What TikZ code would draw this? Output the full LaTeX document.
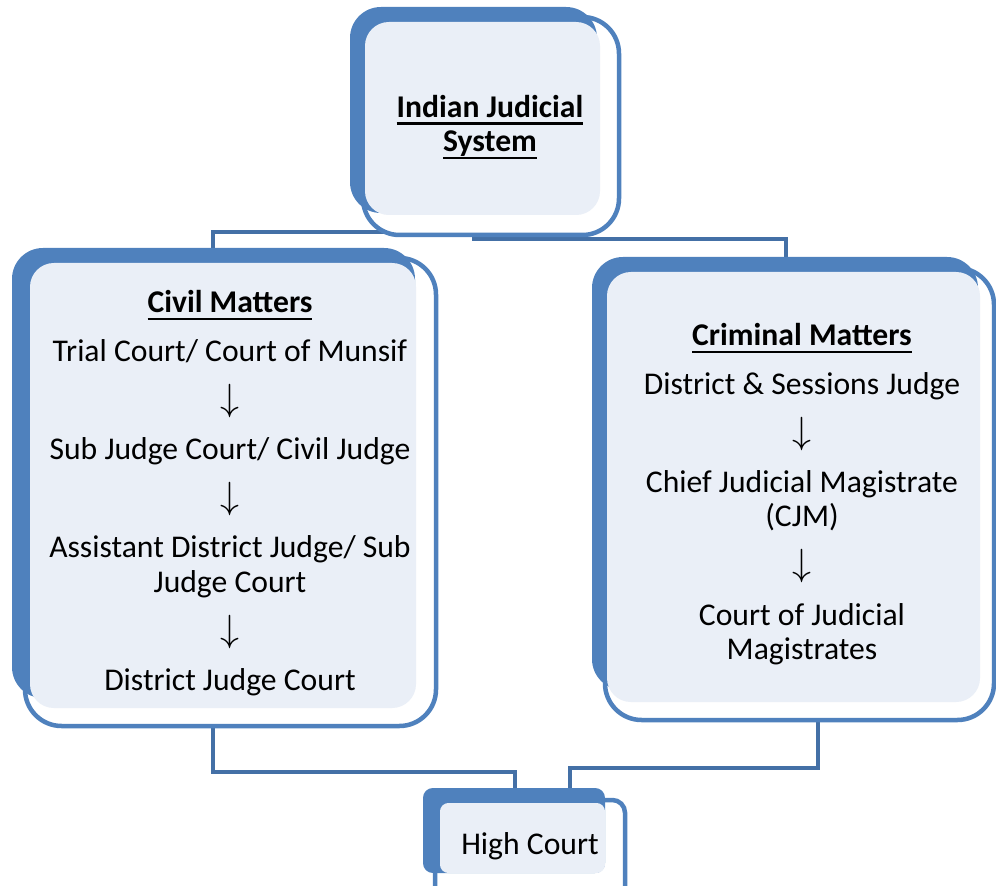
\documentclass[tikz,border=0pt]{standalone}
\usepackage{fontspec}
\setmainfont{Carlito}
\usetikzlibrary{positioning,backgrounds}
\definecolor{boxblue}{HTML}{4F81BD}
\definecolor{boxfill}{HTML}{EAEFF7}
\definecolor{linkblue}{HTML}{4470A6}
\newsavebox{\headbox}
\newcommand{\headline}[1]{\sbox{\headbox}{\textbf{#1}}\mbox{\rlap{\usebox{\headbox}}\rule[-5pt]{\wd\headbox}{1.5pt}}}
\newcommand{\down}{\scalebox{1.3}{$\downarrow$}}

\begin{document}
\begin{tikzpicture}[
    x=0.025cm, y=-0.025cm,
    font=\fontsize{22.5}{24.2}\selectfont,
    back/.style={fill=boxblue, rounded corners=22pt},
    face/.style={fill=boxfill, rounded corners=17pt},
    rim/.style={draw=boxblue, fill=white, line width=3.2pt, rounded corners=26pt},
    link/.style={draw=linkblue, line width=3.5pt},
    txt/.style={align=center, inner sep=0pt}
]
    \useasboundingbox (0,0) rectangle (996,886);

    % Top box
    \path[rim] (363,17) rectangle (619,235);
    \path[back] (350,7) rectangle (597,213);
    \path[face] (365,22) rectangle (600,215);
    \node[txt] (system) at (490,127) {\headline{Indian Judicial}\\\headline{System}};

    % Civil box
    \path[rim] (25,258) rectangle (436,726);
    \path[back] (12,248) rectangle (415,698);
    \path[face] (30,263) rectangle (416,708);
    \node[txt] (civil) at (230,493) {\headline{Civil Matters}\\[10.7pt]
        Trial Court/ Court of Munsif\\[10.7pt]
        \down\\[10.7pt]
        Sub Judge Court/ Civil Judge\\[10.7pt]
        \down\\[10.7pt]
        Assistant District Judge/ Sub\\ Judge Court\\[10.7pt]
        \down\\[10.7pt]
        District Judge Court};

    % Criminal box
    \path[rim] (605,268) rectangle (994,720);
    \path[back] (592,257) rectangle (978,690);
    \path[face] (607,272) rectangle (980,702);
    \node[txt] (criminal) at (802,494) {\headline{Criminal Matters}\\[10.7pt]
        District \& Sessions Judge\\[10.7pt]
        \down\\[10.7pt]
        Chief Judicial Magistrate\\ (CJM)\\[10.7pt]
        \down\\[10.7pt]
        Court of Judicial\\ Magistrates};

    % High court box
    \path[rim, rounded corners=9pt] (435,800) rectangle (625,910);
    \path[back, rounded corners=7pt] (423,788) rectangle (605,873);
    \path[face, rounded corners=6pt] (440,803) rectangle (605,873);
    \node[txt] (high) at (530,846) {High Court};

    % Connector ends
    \coordinate (sysout) at (474,215);
    \coordinate (civin) at (213,250);
    \coordinate (crimin) at (786,260);
    \coordinate (civout) at (213,708);
    \coordinate (crimout) at (818,702);
    \coordinate (highinl) at (515,790);
    \coordinate (highinr) at (570,790);

    % Connectors
    \begin{pgfonlayer}{background}
        \draw[link] (sysout) |- (300,232) -| (civin);
        \draw[link] (sysout) |- (600,239) -| (crimin);
        \draw[link] (civout) |- (400,772) -| (highinl);
        \draw[link] (crimout) |- (700,768) -| (highinr);
    \end{pgfonlayer}
\end{tikzpicture}
\end{document}
